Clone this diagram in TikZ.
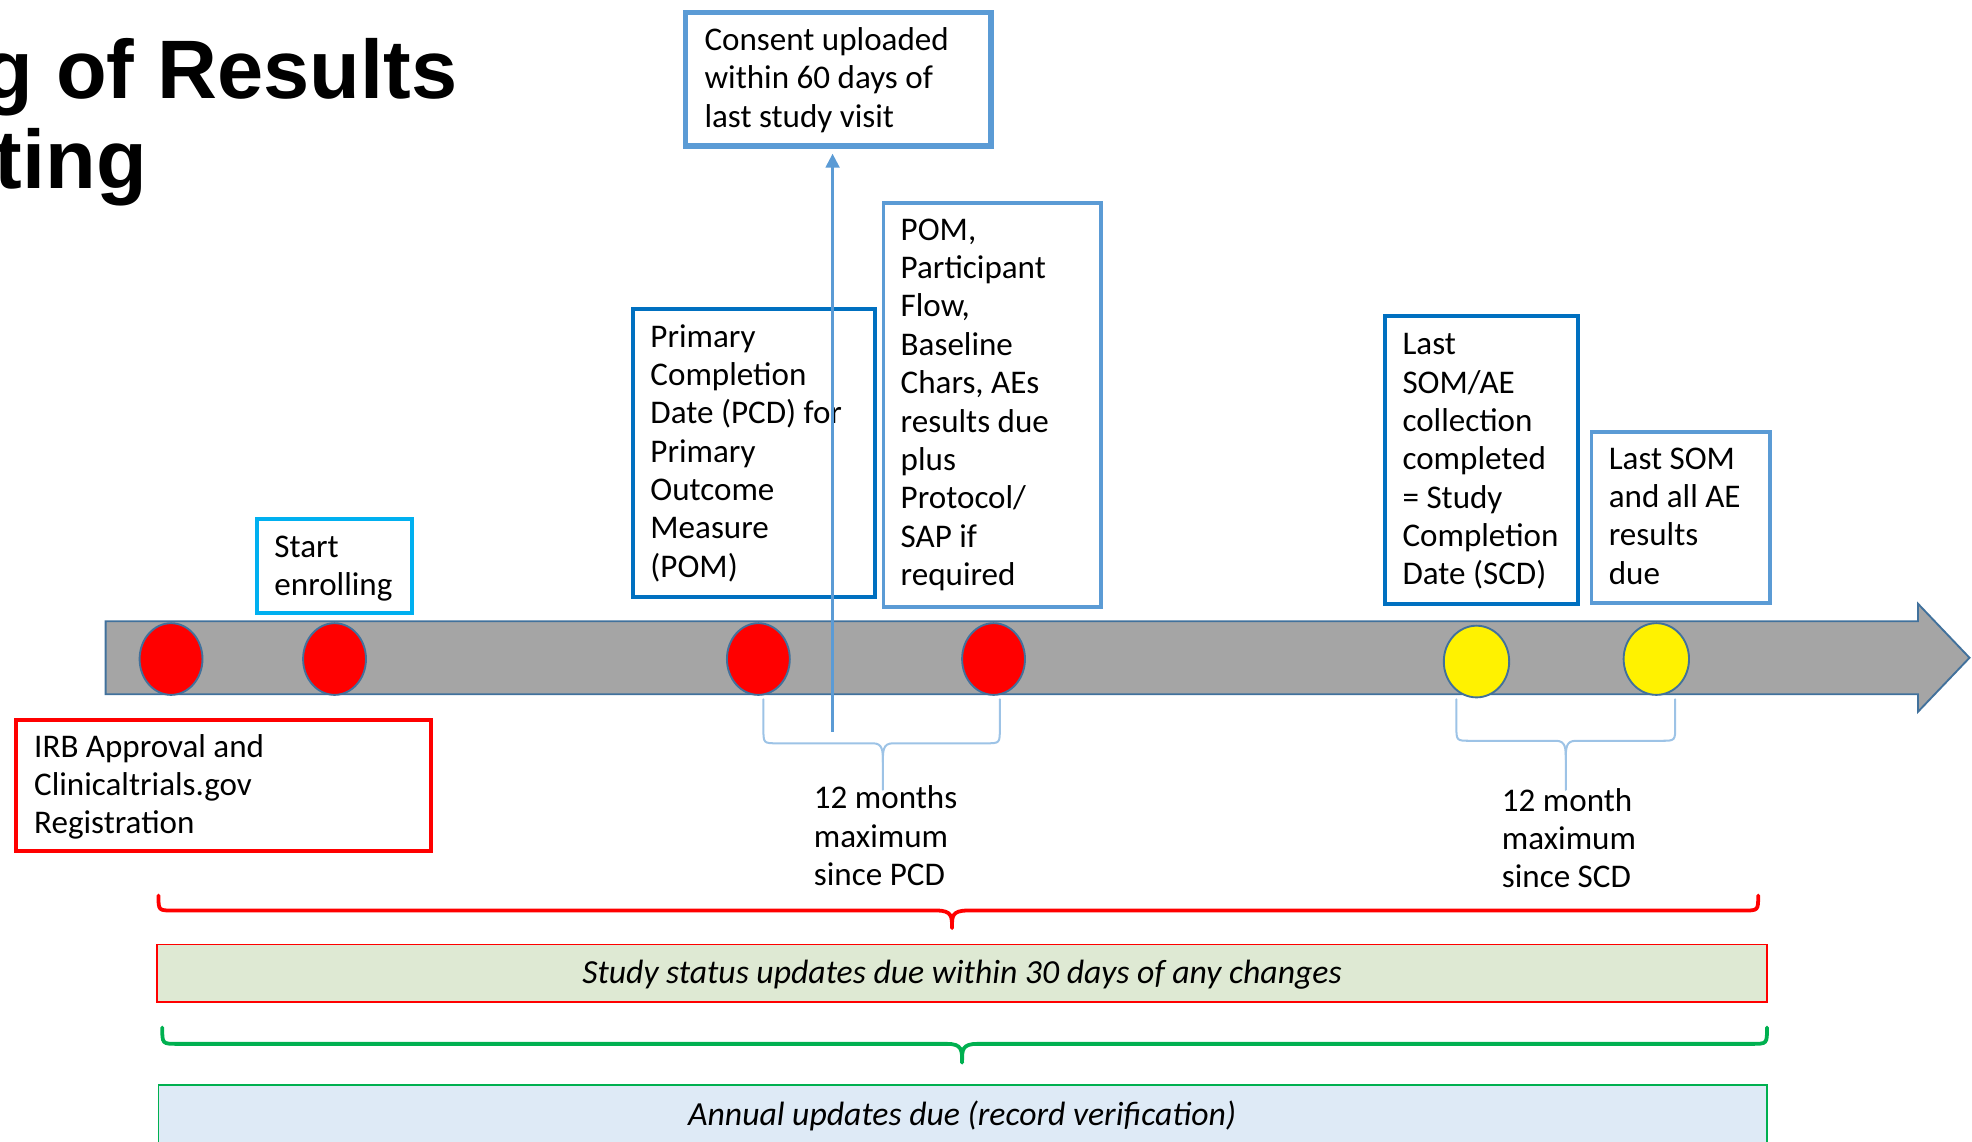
\documentclass[tikz,border=0pt]{standalone}
\usepackage{fontspec}
\setmainfont{Carlito}
\newfontfamily\titlefont{Liberation Sans}
\usetikzlibrary{arrows.meta,shapes.geometric}
\definecolor{mblue}{HTML}{5B9BD5}
\definecolor{dblue}{HTML}{0070C0}
\definecolor{cyanb}{HTML}{00B0F0}
\definecolor{lblue}{HTML}{9DC3E6}
\definecolor{barfill}{HTML}{A5A5A5}
\definecolor{barline}{HTML}{41719C}
\definecolor{gbrace}{HTML}{00B050}
\definecolor{gfill}{HTML}{DEE9D3}
\definecolor{bfill}{HTML}{DEEAF6}
\newcommand\tlbody{\fontsize{26.3}{30.5}\selectfont}
\newcommand\tlital{\fontsize{26.8}{30.5}\selectfont\itshape}
\begin{document}
\begin{tikzpicture}[x=1pt,y=-1pt,
  frame/.style={draw, line width=3pt, inner sep=0pt, fill=white},
  txt/.style={anchor=base west, align=left, inner sep=0pt, font=\tlbody},
  dot/.style={ellipse, draw=barline, line width=1.5pt, inner sep=0pt},
  bbrace/.style={draw=lblue, line width=1.6pt, line cap=round},
  band/.style={line width=1.5pt, inner sep=0pt}]
\useasboundingbox (0,0) rectangle (1568,908);

% title
\node[anchor=base east, inner sep=0pt, font={\titlefont\bfseries\fontsize{66}{72}\selectfont}] (title1) at (364,78) {g of Results};
\node[anchor=base east, inner sep=0pt, font={\titlefont\bfseries\fontsize{66}{72}\selectfont}] (title2) at (117,149.5) {ting};

% timeline
\draw[fill=barfill, draw=barline, line width=1.5pt] (84,494) -- (1525,494) -- (1525,480) -- (1566,523) -- (1525,566) -- (1525,552) -- (84,552) -- cycle;

% milestones
\node[dot, fill=red, minimum width=50pt, minimum height=57pt] (c1) at (136,524) {};
\node[dot, fill=red, minimum width=50pt, minimum height=57pt] (c2) at (266,524) {};
\node[dot, fill=red, minimum width=50pt, minimum height=57pt] (c3) at (603,524) {};
\node[dot, fill=red, minimum width=50pt, minimum height=57pt] (c4) at (790,524) {};
\node[dot, fill=yellow, minimum width=52pt, minimum height=57pt] (y1) at (1174,526) {};
\node[dot, fill=yellow, minimum width=52pt, minimum height=57pt] (y2) at (1317,524) {};

% blue braces
\draw[bbrace] (607,556) -- (607,579) .. controls (607,591) .. (618,591) -- (694,591) .. controls (702,591) and (702,597) .. (702,606) -- (702,628);
\draw[bbrace] (795,556) -- (795,579) .. controls (795,591) .. (784,591) -- (710,591) .. controls (702,591) and (702,597) .. (702,606);
\draw[bbrace] (1158,556) -- (1158,577) .. controls (1158,589) .. (1169,589) -- (1237,589) .. controls (1245,589) and (1245,595) .. (1245,604) -- (1245,628);
\draw[bbrace] (1332,556) -- (1332,577) .. controls (1332,589) .. (1321,589) -- (1253,589) .. controls (1245,589) and (1245,595) .. (1245,604);

% boxes (text nodes are anchored at the baseline of their last line)
\node[frame, draw=mblue, line width=4.5pt, minimum width=243pt, minimum height=106pt] (consent) at (666.5,63) {};
\node[txt] (consentT) at (560,101) {Consent uploaded\\within 60 days of\\last study visit};

\node[frame, draw=cyanb, minimum width=123pt, minimum height=75pt] (start) at (266,450) {};
\node[txt] (startT) at (218,473.5) {Start\\enrolling};

\node[frame, draw=dblue, minimum width=192pt, minimum height=229pt] (pcd) at (599.5,360) {};
\node[txt] (pcdT) at (517,459) {Primary\\Completion\\Date (PCD) for\\Primary\\Outcome\\Measure\\(POM)};

\node[frame, draw=mblue, minimum width=173pt, minimum height=321pt] (pom) at (789,322) {};
\node[txt] (pomT) at (716,465.5) {POM,\\Participant\\Flow,\\Baseline\\Chars, AEs\\results due\\plus\\Protocol/\\SAP if\\required};

\node[frame, draw=dblue, minimum width=153pt, minimum height=229pt] (scd) at (1178,366) {};
\node[txt] (scdT) at (1115,465) {Last\\SOM/AE\\collection\\completed\\= Study\\Completion\\Date (SCD)};

\node[frame, draw=mblue, minimum width=142pt, minimum height=136pt] (som) at (1336.5,411.5) {};
\node[txt] (somT) at (1279,464.5) {Last SOM\\and all AE\\results\\due};

\node[frame, draw=red, minimum width=330pt, minimum height=104pt] (irb) at (177.5,624.5) {};
\node[txt] (irbT) at (27,663) {IRB Approval and\\Clinicaltrials.gov\\Registration};

% vertical arrow
\coordinate (vstart) at (662,582);
\draw[draw=mblue, line width=1.8pt, -{Triangle[width=11pt,length=11pt]}, shorten >=4pt] (vstart) -- (vstart |- consent.south);

% brace labels
\node[txt] (pcdlab) at (647,704) {12 months\\maximum\\since PCD};
\node[txt] (scdlab) at (1194,706) {12 month\\maximum\\since SCD};

% red brace and band
\draw[draw=red, line width=3pt, line cap=round] (126,712) .. controls (126,724) .. (138,724) -- (745,724) .. controls (757,724) and (757,729) .. (757,738);
\draw[draw=red, line width=3pt, line cap=round] (1398,712) .. controls (1398,724) .. (1386,724) -- (769,724) .. controls (757,724) and (757,729) .. (757,736);
\node[band, draw=red, fill=gfill, minimum width=1280pt, minimum height=46pt] (status) at (765,774) {};
\node[anchor=base, inner sep=0pt, font=\tlital] (statusT) at (765,782) {Study status updates due within 30 days of any changes};

% green brace and band
\draw[draw=gbrace, line width=3pt, line cap=round] (129,817) .. controls (129,830) .. (141,830) -- (753,830) .. controls (765,830) and (765,835) .. (765,845);
\draw[draw=gbrace, line width=3pt, line cap=round] (1405,817) .. controls (1405,830) .. (1393,830) -- (777,830) .. controls (765,830) and (765,835) .. (765,843);
\node[band, draw=gbrace, fill=bfill, minimum width=1279pt, minimum height=60pt] (annual) at (765.5,893) {};
\node[anchor=base, inner sep=0pt, font=\tlital] (annualT) at (765,895) {Annual updates due (record verification)};
\end{tikzpicture}
\end{document}
